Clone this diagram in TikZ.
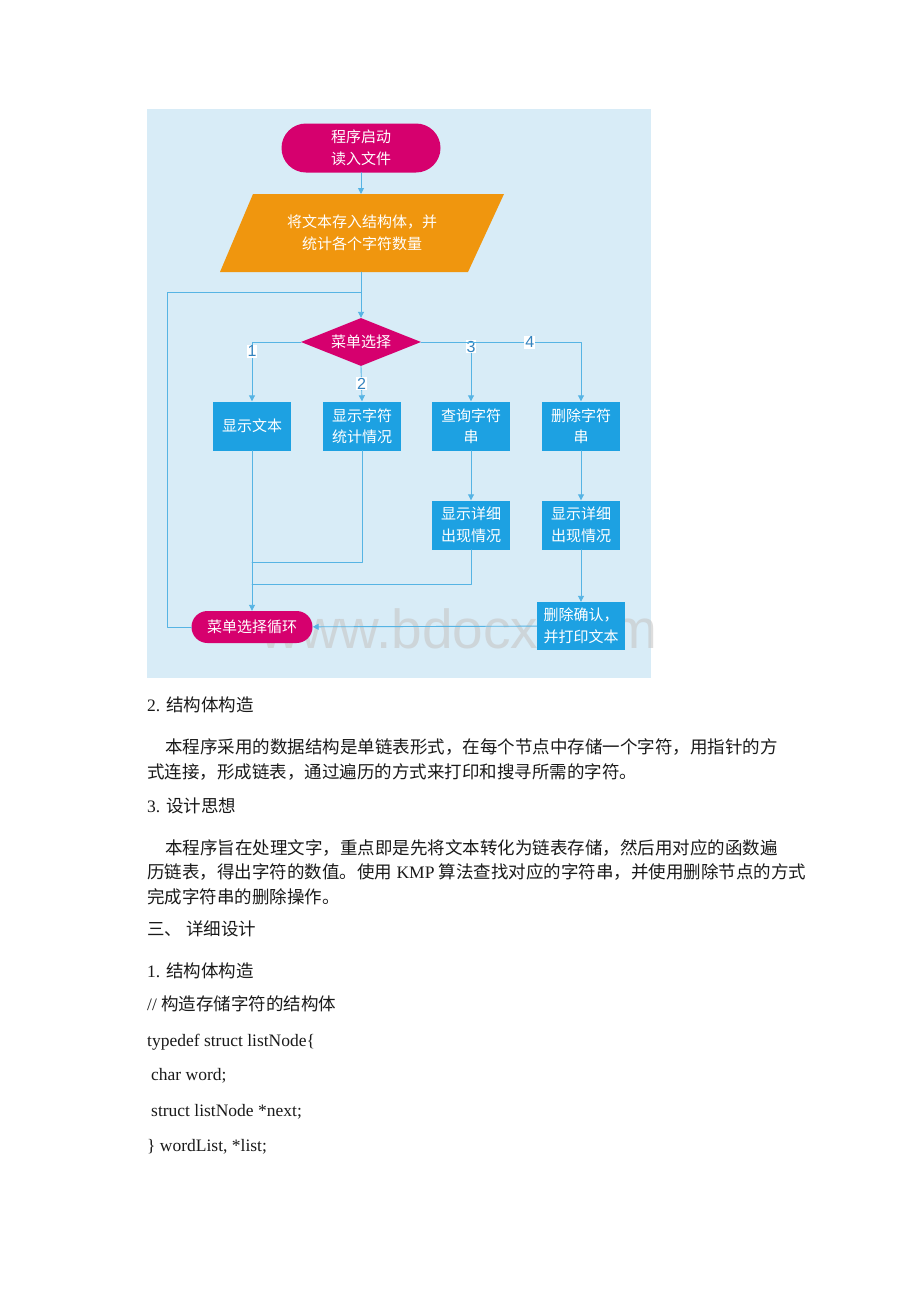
\documentclass[tikz,border=0pt]{standalone}
\usepackage{fontspec}
\setmainfont{Liberation Serif}
\newfontfamily\cjk{Noto Sans CJK SC}
\newfontfamily\wmfont{Liberation Sans}
\usetikzlibrary{arrows.meta}
\usetikzlibrary{shapes.geometric}
\usetikzlibrary{shapes.misc}
\usetikzlibrary{positioning}
\definecolor{bgblue}{RGB}{216,236,247}
\definecolor{menumag}{RGB}{214,0,110}
\definecolor{storeorange}{RGB}{240,150,14}
\definecolor{boxblue}{RGB}{29,161,226}
\definecolor{linkblue}{RGB}{86,180,228}
\definecolor{numblue}{RGB}{50,130,190}
\definecolor{bodytext}{RGB}{25,25,25}
\newcommand{\flowfont}{\cjk\fontsize{15}{21.5}\selectfont}
\newcommand{\bodyfont}{\fontsize{17.5}{20}\selectfont}

\begin{document}
\begin{tikzpicture}[x=1pt,y=-1pt,line cap=round,line join=round,
  flow/.style={draw=linkblue,line width=0.9pt},
  arr/.style={flow,-{Triangle[length=6pt,width=6pt]}},
  term/.style={rounded rectangle,fill=menumag,text=white,font=\flowfont,
    align=center,inner sep=0pt},
  proc/.style={rectangle,fill=boxblue,text=white,font=\flowfont,
    align=center,inner sep=0pt,minimum width=78,minimum height=49},
  choice/.style={diamond,aspect=2.5,fill=menumag,text=white,font=\flowfont,
    inner sep=0pt,minimum width=120,minimum height=48},
  num/.style={fill=white,text=numblue,font=\wmfont\fontsize{16}{16}\selectfont,
    inner sep=1pt},
  body/.style={anchor=west,inner sep=0pt,text=bodytext,font=\bodyfont}]
\useasboundingbox (0,0) rectangle (920,1302);
% background of the chart
\fill[bgblue] (147,109) rectangle (651,678);
\node[text=gray!45,opacity=0.6,font=\wmfont\fontsize{55}{55}\selectfont] (mark) at (459,629) {www.bdocx.com};

% chart nodes
\node[term,minimum width=159,minimum height=49] (start) at (361,148) {程序启动\\读入文件};
\fill[storeorange] (253,194) -- (504,194) -- (468,272) -- (220,272) -- cycle;
\coordinate (storetop) at (361,194);
\coordinate (storebot) at (361,272);
\node[text=white,font=\flowfont,align=center] (store) at (362,233) {将文本存入结构体，并\\统计各个字符数量};
\node[choice] (menu) at (361,342) {菜单选择};
\node[proc] (show) at (252,426) {显示文本};
\node[proc] (stat) at (362,426) {显示字符\\统计情况};
\node[proc] (query) at (471,426) {查询字符\\串};
\node[proc] (del) at (581,426) {删除字符\\串};
\node[proc] (qinfo) at (471,525) {显示详细\\出现情况};
\node[proc] (dinfo) at (581,525) {显示详细\\出现情况};
\node[proc,minimum width=88,minimum height=48] (confirm) at (581,626) {删除确认，\\并打印文本};
\node[term,minimum width=121,minimum height=32] (loop) at (252,627) {菜单选择循环};
\coordinate (lpL) at (167,292);
\coordinate (lpJ) at (361,292);
\coordinate (j1) at (252,562);
\coordinate (j2) at (252,584);

% connectors
\draw[arr] (start) -- (storetop);
\draw[arr] (storebot) -- (menu.north);
\draw[flow] (loop.west) -| (lpL) -- (lpJ);
\draw[arr] (menu.west) -| node[num,pos=0.58] {1} (show.north);
\draw[arr] (menu.south) -- node[num] {2} (stat.north);
\draw[arr] (menu.east) -| node[num,pos=0.54] {3} (query.north);
\draw[arr] (menu.east) -| node[num,pos=0.34] {4} (del.north);
\draw[arr] (query) -- (qinfo);
\draw[arr] (del) -- (dinfo);
\draw[arr] (dinfo) -- (confirm);
\draw[arr] (confirm) -- (loop);
\draw[arr] (show) -- (loop);
\draw[flow] (stat.south) |- (j1);
\draw[flow] (qinfo.south) |- (j2);

% text of the page
\node[body] (h2) at (147,705) {2. {\cjk 结构体构造}};
\node[body] (p1a) at (165,747) {\cjk 本程序采用的数据结构是单链表形式，在每个节点中存储一个字符，用指针的方};
\node[body] (p1b) at (147,772) {\cjk 式连接，形成链表，通过遍历的方式来打印和搜寻所需的字符。};
\node[body] (h3) at (147,806) {3. {\cjk 设计思想}};
\node[body] (p2a) at (165,848) {\cjk 本程序旨在处理文字，重点即是先将文本转化为链表存储，然后用对应的函数遍};
\node[body] (p2b) at (147,872) {{\cjk 历链表，得出字符的数值。使用} KMP {\cjk 算法查找对应的字符串，并使用删除节点的方式}};
\node[body] (p2c) at (147,897) {\cjk 完成字符串的删除操作。};
\node[body] (h4) at (147,929) {\cjk 三、\ 详细设计};
\node[body] (h5) at (147,971) {1. {\cjk 结构体构造}};
\node[body] (c1) at (147,1004) {// {\cjk 构造存储字符的结构体}};
\node[body] (c2) at (147,1042) {typedef struct listNode\{};
\node[body] (c3) at (151,1076) {char word;};
\node[body] (c4) at (151,1112) {struct listNode *next;};
\node[body] (c5) at (147,1147) {\} wordList, *list;};
\end{tikzpicture}
\end{document}
